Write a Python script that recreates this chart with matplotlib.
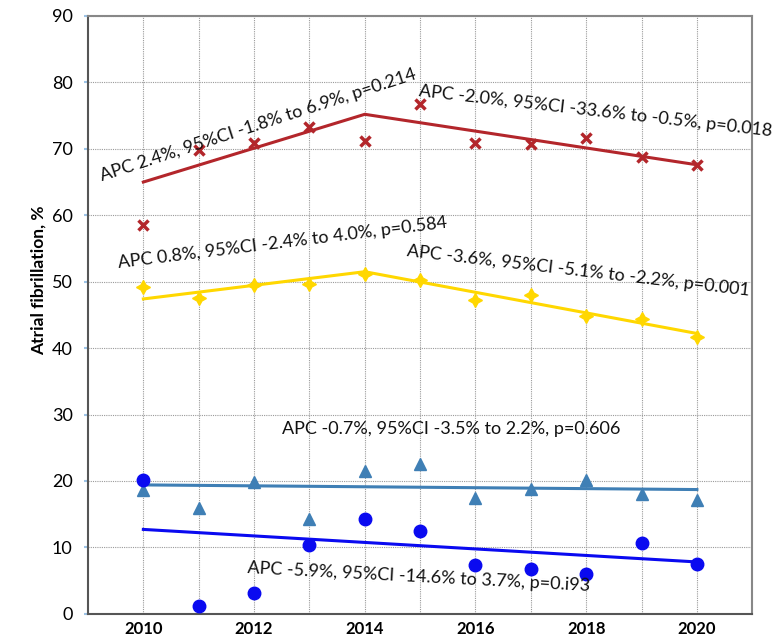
import matplotlib
matplotlib.use("agg")
import matplotlib.pyplot as plt
import numpy as np

# observed values, % of patients
years = np.arange(2010, 2021)
red_values = [58.5, 69.8, 70.9, 73.3, 71.2, 76.7, 70.9, 70.7, 71.7, 68.7, 67.5]
yellow_values = [49.2, 47.5, 49.5, 49.7, 51.2, 50.3, 47.2, 48.0, 44.8, 44.4, 41.6]
triangle_values = [18.7, 15.9, 19.9, 14.2, 21.5, 22.5, 17.4, 18.8, 20.2, 18.1, 17.2]
circle_values = [20.1, 1.2, 3.1, 10.4, 14.2, 12.5, 7.3, 6.8, 6.0, 10.7, 7.5]

# joinpoint trend lines (knot years and fitted values)
red_fit_years = [2010, 2014, 2020]
red_fit = [65.0, 75.2, 67.6]
yellow_fit_years = [2010, 2014, 2020]
yellow_fit = [47.4, 51.5, 42.2]
triangle_fit_years = [2010, 2020]
triangle_fit = [19.4, 18.7]
circle_fit_years = [2010, 2020]
circle_fit = [12.7, 7.8]

labels = [
    "APC 2.4%, 95%CI -1.8% to 6.9%, p=0.214",
    "APC -2.0%, 95%CI -33.6% to -0.5%, p=0.018",
    "APC 0.8%, 95%CI -2.4% to 4.0%, p=0.584",
    "APC -3.6%, 95%CI -5.1% to -2.2%, p=0.001",
    "APC -0.7%, 95%CI -3.5% to 2.2%, p=0.606",
    "APC -5.9%, 95%CI -14.6% to 3.7%, p=0.i93",
]
label_x = [2012.08, 2018.17, 2012.51, 2017.85, 2015.56, 2014.97]
label_y = [73.6, 75.6, 55.8, 51.6, 27.8, 5.5]
label_rotation = [18, -6.5, 7, -6.6, 0, -3]

plt.rcParams["font.family"] = ["Lato", "DejaVu Sans"]

fig = plt.figure(figsize=(7.76, 6.40), dpi=100)
axis = fig.add_axes([0.1134, 0.041, 0.856, 0.934])

red = "#b3262b"
yellow = "#ffd700"
steel = "#3f7fb5"
blue = "#0a0af0"

axis.plot(red_fit_years, red_fit, color=red, linewidth=2.2, zorder=3)
axis.plot(years, red_values, linestyle="none", marker="x", color=red,
          markersize=7, markeredgewidth=2.5, zorder=4)
axis.plot(yellow_fit_years, yellow_fit, color=yellow, linewidth=2.2, zorder=3)
axis.plot(years, yellow_values, linestyle="none", marker=(4, 1, 0),
          color=yellow, markersize=10, zorder=4)
axis.plot(triangle_fit_years, triangle_fit, color=steel, linewidth=2.2, zorder=3)
axis.plot(years, triangle_values, linestyle="none", marker="^", color=steel,
          markersize=9, zorder=4)
axis.plot(circle_fit_years, circle_fit, color=blue, linewidth=2.2, zorder=3)
axis.plot(years, circle_values, linestyle="none", marker="o", color=blue,
          markersize=9, zorder=4)

for text, x, y, rotation in zip(labels, label_x, label_y, label_rotation):
    axis.text(x, y, text, rotation=rotation, rotation_mode="anchor",
              ha="center", va="center", fontsize=13, color="#111111",
              zorder=5, clip_on=False)

axis.set_xlim(2009, 2021)
axis.set_ylim(0, 90)
axis.set_xticks(np.arange(2010, 2021, 2))
axis.set_xticks(np.arange(2010, 2021, 1), minor=True)
axis.set_yticks(np.arange(0, 91, 10))
axis.grid(True, which="both", linestyle=(0, (1, 1)), color="#9a9a9a",
          linewidth=0.8)
axis.set_axisbelow(True)
axis.tick_params(axis="x", which="both", length=0, pad=5, labelsize=12)
axis.tick_params(axis="y", length=3, width=1.5, color="#9dc3e6", pad=8,
                 labelsize=13)
for label in axis.get_xticklabels():
    label.set_fontweight("bold")
axis.set_ylabel("Atrial fibrillation, %", fontsize=12.5, fontweight="bold")
axis.yaxis.set_label_coords(-0.062, 0.558)
for side in ["left", "bottom"]:
    axis.spines[side].set_color("#555555")
    axis.spines[side].set_linewidth(1.5)
for side in ["top", "right"]:
    axis.spines[side].set_color("#888888")
    axis.spines[side].set_linewidth(1.5)

fig.savefig("out.png", dpi=100)
